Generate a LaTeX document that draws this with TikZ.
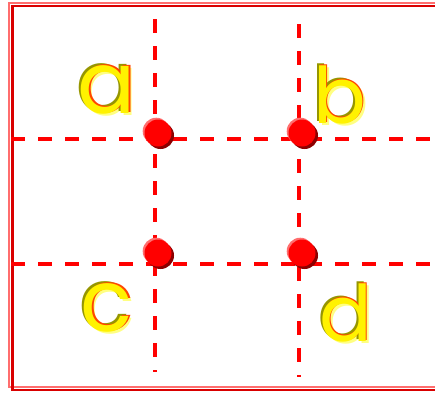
\documentclass[tikz,border=0pt]{standalone}
\usepackage{fontspec}
\newfontfamily\popfont{Poppins}
\usetikzlibrary{calc}
\definecolor{olivetxt}{RGB}{150,150,0}
\definecolor{paleyel}{RGB}{255,255,130}
\definecolor{dkred}{RGB}{140,0,0}
\definecolor{pinkred}{RGB}{255,110,110}
\definecolor{orangetxt}{RGB}{255,70,0}
\begin{document}
\begin{tikzpicture}[x=1pt,y=-1pt,
  guide/.style={red, line width=4pt, dash pattern=on 14pt off 13pt},
  dot/.style={circle, inner sep=0pt, minimum size=27pt, fill=red,
    preaction={fill=dkred, transform canvas={shift={(2.5,2.5)}}},
    preaction={fill=pinkred, transform canvas={shift={(-1.8,-1.8)}}}},
  lt/.style={font=\popfont\fontsize{86}{86}\selectfont, inner sep=0pt, anchor=base},
  ltsmall/.style={font=\popfont\fontsize{78}{78}\selectfont, inner sep=0pt, anchor=base},
  frameA/.style={pinkred, line width=2pt},
  frameB/.style={red!85!black, line width=2.5pt}
]
\useasboundingbox (0,0) rectangle (435,392);
% frame
\draw[frameA] (9,2.5) rectangle (470,387);
\draw[frameB] (12.5,6) rectangle (470,390);
% guide coordinates
\coordinate (v1t) at (154.5,19);
\coordinate (v1b) at (154.5,372);
\coordinate (v2t) at (298.5,24);
\coordinate (v2b) at (298.5,377);
\coordinate (h1l) at (11,139);
\coordinate (h1r) at (440,139);
\coordinate (h2l) at (11,264);
\coordinate (h2r) at (440,264);
\draw[guide] (v1t) -- (v1b);
\draw[guide] (v2t) -- (v2b);
\draw[guide] (h1l) -- (h1r);
\draw[guide] (h2l) -- (h2r);
% dots
\node[dot] (p1) at (158,133) {};
\node[dot] (p2) at (302,133) {};
\node[dot] (p3) at (158,253) {};
\node[dot] (p4) at (302,253) {};
% letters
\newcommand{\fancyletter}[4]{%
  \node[#4, text=paleyel] at ($(#2)+(2.4,2.4)$) {#3};
  \node[#4, text=olivetxt] at ($(#2)+(-2,-1.8)$) {#3};
  \node[#4, text=orangetxt] at ($(#2)+(1.2,-1)$) {#3};
  \node[#4, text=yellow] (#1) at ($(#2)+(-0.6,0.8)$) {#3};
}
\coordinate (pa) at (107,113);
\coordinate (pb) at (340,123);
\coordinate (pc) at (107,331);
\coordinate (pd) at (346,341);
\fancyletter{la}{pa}{a}{lt}
\fancyletter{lb}{pb}{b}{ltsmall}
\fancyletter{lc}{pc}{c}{lt}
\fancyletter{ld}{pd}{d}{ltsmall}
\end{tikzpicture}
\end{document}
